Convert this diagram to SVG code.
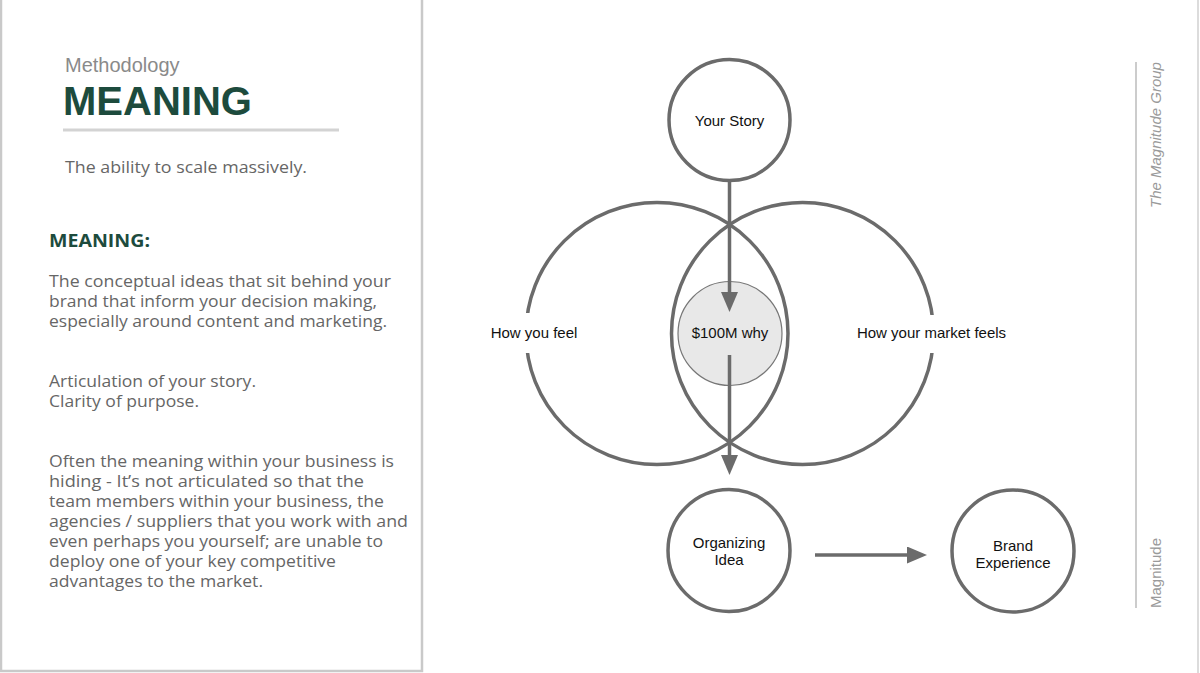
<svg xmlns="http://www.w3.org/2000/svg" width="1200" height="673" viewBox="0 0 1200 673">
<defs>
<style>
.panel{fill:#fff;stroke:#c9c9c9;stroke-width:2.5}
.body{font-family:"Open Sans","Liberation Sans",sans-serif;font-size:15.5px;fill:#666}
.green{fill:#1d4b3d}
.node{fill:#fff;stroke:#6b6b6b;stroke-width:3.5}
.big{fill:none;stroke:#6b6b6b;stroke-width:3.5}
.lbl{font-family:"Liberation Sans",Arial,sans-serif;font-size:15px;fill:#111;text-anchor:middle}
.conn{stroke:#6b6b6b;stroke-width:3.5;fill:none;marker-end:url(#ah)}
.side{font-family:"Liberation Sans",Arial,sans-serif;font-size:15px;fill:#9a9a9a}
</style>
<marker id="ah" markerUnits="userSpaceOnUse" markerWidth="20" markerHeight="18" refX="10" refY="8.5" orient="auto">
<path d="M0,0 L20,8.5 L0,17 z" fill="#6b6b6b"/>
</marker>
</defs>
<rect width="1200" height="673" fill="#fff"/>
<line x1="1198" y1="0" x2="1198" y2="673" stroke="#dcdcdc" stroke-width="2"/>

<g id="left-panel">
<rect class="panel" x="1" y="-3" width="421" height="674"/>
<text x="65" y="72" font-family="Liberation Sans,Arial,sans-serif" font-size="20" fill="#8a8a8a">Methodology</text>
<text x="63" y="115" class="green" font-family="Liberation Sans,Arial,sans-serif" font-size="40" font-weight="bold">MEANING</text>
<line x1="63" y1="130" x2="339" y2="130" stroke="#d3d3d3" stroke-width="3"/>
<text class="body" x="65" y="173" textLength="242" lengthAdjust="spacingAndGlyphs">The ability to scale massively.</text>
<text x="49" y="247" class="green" font-family="Open Sans,Liberation Sans,sans-serif" font-size="17" font-weight="bold" textLength="101" lengthAdjust="spacingAndGlyphs">MEANING:</text>
<text class="body" x="49" y="287" textLength="342" lengthAdjust="spacingAndGlyphs">The conceptual ideas that sit behind your</text>
<text class="body" x="49" y="307" textLength="328" lengthAdjust="spacingAndGlyphs">brand that inform your decision making,</text>
<text class="body" x="49" y="327" textLength="338" lengthAdjust="spacingAndGlyphs">especially around content and marketing.</text>
<text class="body" x="49" y="387" textLength="207" lengthAdjust="spacingAndGlyphs">Articulation of your story.</text>
<text class="body" x="49" y="407" textLength="150" lengthAdjust="spacingAndGlyphs">Clarity of purpose.</text>
<text class="body" x="49" y="467" textLength="345" lengthAdjust="spacingAndGlyphs">Often the meaning within your business is</text>
<text class="body" x="49" y="487" textLength="315" lengthAdjust="spacingAndGlyphs">hiding - It’s not articulated so that the</text>
<text class="body" x="49" y="507" textLength="335" lengthAdjust="spacingAndGlyphs">team members within your business, the</text>
<text class="body" x="49" y="527" textLength="359" lengthAdjust="spacingAndGlyphs">agencies / suppliers that you work with and</text>
<text class="body" x="49" y="547" textLength="334" lengthAdjust="spacingAndGlyphs">even perhaps you yourself; are unable to</text>
<text class="body" x="49" y="567" textLength="287" lengthAdjust="spacingAndGlyphs">deploy one of your key competitive</text>
<text class="body" x="49" y="587" textLength="214" lengthAdjust="spacingAndGlyphs">advantages to the market.</text>
</g>

<g id="sidebar">
<line x1="1136" y1="62" x2="1136" y2="608" stroke="#cccccc" stroke-width="2"/>
<text class="side" font-style="italic" transform="translate(1161,208) rotate(-90)">The Magnitude Group</text>
<text class="side" transform="translate(1161,608) rotate(-90)">Magnitude</text>
</g>

<g id="how-you-feel">
<circle class="big" cx="657" cy="333.5" r="131"/>
</g>
<g id="how-your-market-feels">
<circle class="big" cx="802.5" cy="333.5" r="131"/>
</g>
<g id="how-you-feel-label">
<rect x="486" y="313" width="96" height="40" fill="#fff"/>
<text class="lbl" x="534" y="338">How you feel</text>
</g>
<g id="how-your-market-feels-label">
<rect x="853" y="315" width="157" height="38" fill="#fff"/>
<text class="lbl" x="931.5" y="338">How your market feels</text>
</g>

<g id="your-story">
<circle class="node" cx="729.5" cy="120" r="60.5"/>
<text class="lbl" x="729.5" y="126">Your Story</text>
</g>
<g id="why">
<circle cx="730" cy="333.5" r="52" fill="#e8e8e8" stroke="#777" stroke-width="1.2"/>
<text class="lbl" x="730" y="338">$100M why</text>
</g>
<g id="organizing-idea">
<circle class="node" cx="729" cy="550.5" r="61"/>
<text class="lbl" x="729" y="548">Organizing</text>
<text class="lbl" x="729" y="565">Idea</text>
</g>
<g id="brand-experience">
<circle class="node" cx="1013" cy="551" r="61"/>
<text class="lbl" x="1013" y="551">Brand</text>
<text class="lbl" x="1013" y="568">Experience</text>
</g>

<g id="connectors">
<line class="conn" x1="729.5" y1="181" x2="729.5" y2="302"/>
<line class="conn" x1="729.5" y1="355" x2="729.5" y2="465"/>
<line class="conn" x1="815" y1="555" x2="917" y2="555"/>
</g>
</svg>
